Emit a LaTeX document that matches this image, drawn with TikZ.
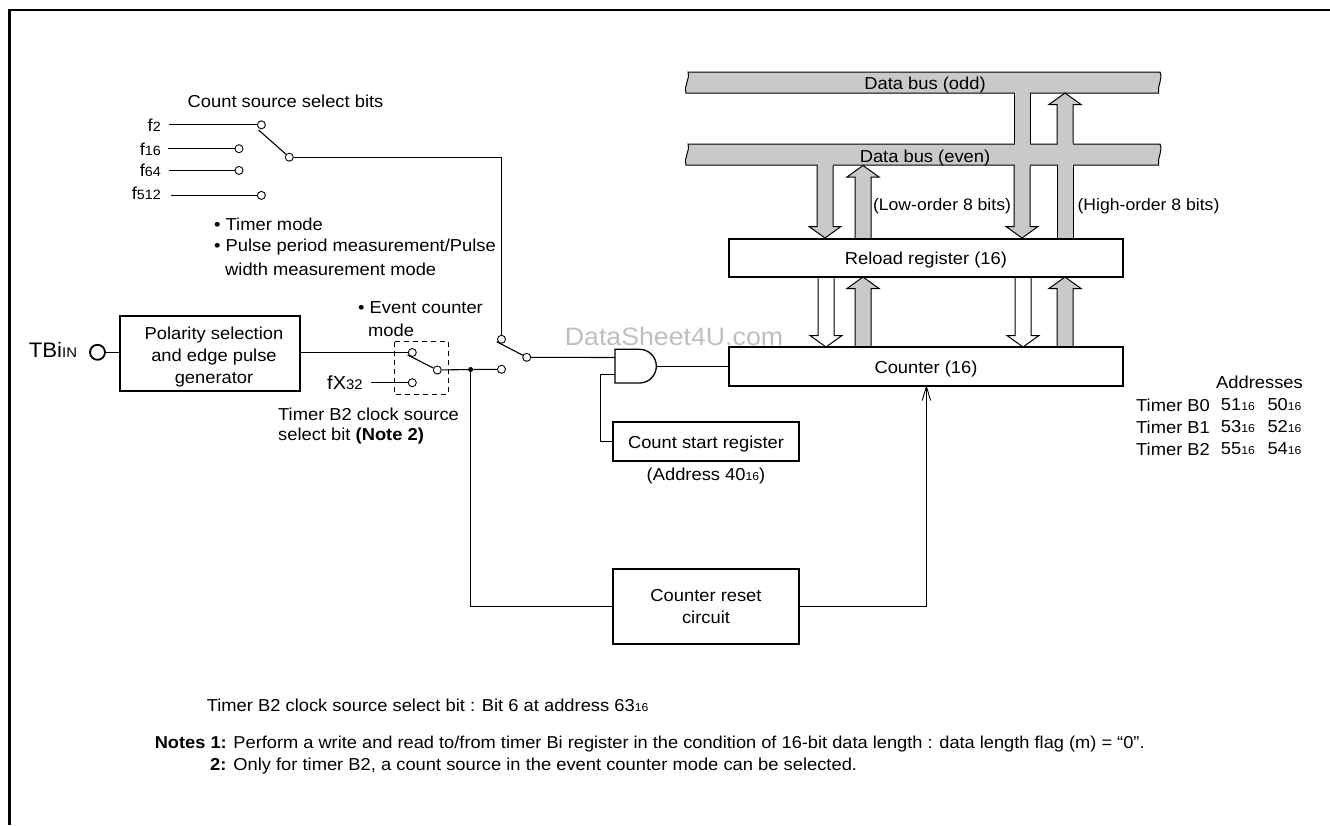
\documentclass[tikz,border=0pt]{standalone}
\usepackage{fontspec}
\setmainfont[FakeStretch=1.06]{Liberation Sans}
\usetikzlibrary{calc,arrows.meta}
\definecolor{busgray}{gray}{0.79}
\newcommand{\sbs}[1]{{\fontsize{11.5}{12}\selectfont #1}}
\newcommand{\fsub}[1]{{\fontsize{13.5}{14}\selectfont #1}}
\tikzset{x=1pt,y=-1pt,
  txt/.style={font=\fontsize{17.3}{22.3}\selectfont,inner sep=0pt,align=left},
  ctxt/.style={font=\fontsize{17.3}{22}\selectfont,inner sep=0pt,align=center},
  boxn/.style={draw,line width=2pt,fill=white,inner sep=0pt,align=center,font=\fontsize{17.3}{22}\selectfont},
  oneline/.style={text height=13pt,text depth=0pt},
  term/.style={circle,draw,fill=white,line width=0.9pt,minimum size=8pt,inner sep=0pt},
  wire/.style={line width=1.1pt},
  dot/.style={circle,fill=black,minimum size=5pt,inner sep=0pt},
  busline/.style={line width=1pt},
}
% block arrow: x, tail y, tip y, fill
\newcommand{\blockarrow}[4]{%
  \pgfmathsetmacro{\dirn}{(#3>#2)?1:-1}
  \filldraw[busline,fill=#4] (#1-8,#2) -- (#1-8,#3-\dirn*11.5) -- (#1-16,#3-\dirn*11.5) -- (#1,#3) -- (#1+16,#3-\dirn*11.5) -- (#1+8,#3-\dirn*11.5) -- (#1+8,#2);
}
% plain shaft
\newcommand{\shaft}[3]{%
  \fill[busgray] (#1-8,#2) rectangle (#1+8,#3);
  \draw[busline] (#1-8,#2) -- (#1-8,#3) (#1+8,#2) -- (#1+8,#3);
}
% opens a bus edge where a shaft crosses it
\newcommand{\busgap}[2]{\fill[busgray] (#1-7.5,#2-1) rectangle (#1+7.5,#2+1);}
% bus outline
\newcommand{\busbar}[1]{%
  \filldraw[busline,fill=busgray] (688,#1) .. controls (690,#1+8) and (684,#1+12) .. (686,#1+21) -- (1158.5,#1+21) .. controls (1157,#1+14) and (1163,#1+8) .. (1160,#1) -- cycle;
}
\begin{document}
\begin{tikzpicture}
\useasboundingbox (0,0) rectangle (1330,825);
% frame
\coordinate (fa) at (9.5,825);
\coordinate (fb) at (9.5,10);
\coordinate (fc) at (1330,10);
\draw[line width=2.6pt] (fa) -- (fb) -- (fc);
% buses
\busbar{72}
\busbar{144}
\shaft{1022}{93}{144}
\blockarrow{1065}{144}{93}{busgray}
\blockarrow{1022}{165}{238}{busgray}
\shaft{1065}{165}{238}
\blockarrow{825}{165}{238}{busgray}
\blockarrow{863}{238}{165.5}{busgray}
\busgap{1022}{93}
\busgap{1022}{144}
\busgap{1022}{165}
\busgap{1065}{144}
\busgap{1065}{165}
\busgap{825}{165}
\node[ctxt] (busodd) at (925,85.5) {Data bus (odd)};
\node[ctxt] (buseven) at (925,158.5) {Data bus (even)};
% arrows between registers
\blockarrow{826}{277}{347}{white}
\blockarrow{863}{347}{277}{busgray}
\blockarrow{1023}{277}{347}{white}
\blockarrow{1065}{347}{277}{busgray}
% boxes
\node[boxn,oneline,minimum width=394pt,minimum height=38.5pt] (reload) at (926,257.8) {Reload register (16)};
\node[boxn,oneline,minimum width=394pt,minimum height=38.5pt] (counter) at (926,366.5) {Counter (16)};
\node[boxn,minimum width=180pt,minimum height=75pt] (polar) at (210.4,353.2) {};
\node[ctxt] (polartext) at (214,357) {Polarity selection\\and edge pulse\\generator};
\node[boxn,oneline,minimum width=186pt,minimum height=39pt] (start) at (706,441.7) {Count start register};
\node[boxn,minimum width=186pt,minimum height=75pt] (reset) at (706,606.4) {Counter reset\\circuit};
\node[ctxt,font=\fontsize{16.6}{22}\selectfont] (lowlab) at (942,206) {(Low-order 8 bits)};
\node[ctxt,font=\fontsize{16.6}{22}\selectfont] (highlab) at (1148.5,206) {(High-order 8 bits)};
% labels left
\node[txt,anchor=west] (cssb) at (187.5,101.5) {Count source select bits};
\node[txt,anchor=east] (f2) at (161,125) {f\fsub{2}};
\node[txt,anchor=east] (f16) at (161,149) {f\fsub{16}};
\node[txt,anchor=east] (f64) at (161,170.5) {f\fsub{64}};
\node[txt,anchor=east] (f512) at (161,193.7) {f\fsub{512}};
% terminals
\node[term] (t2) at (261.4,124.8) {};
\node[term] (t16) at (239,148.7) {};
\node[term] (t64) at (239,170.4) {};
\node[term] (t512) at (261.4,195.4) {};
\node[term] (tout) at (289.3,157.2) {};
\coordinate (l2) at (168.6,124.8);
\coordinate (l16) at (168,148.7);
\coordinate (l64) at (168.6,170.4);
\coordinate (l512) at (171.4,195.4);
\coordinate (lev1) at (258.6,130);
\draw[wire] (l2) -- (t2);
\draw[wire] (l16) -- (t16);
\draw[wire] (l64) -- (t64);
\draw[wire] (l512) -- (t512);
\draw[wire] (lev1) -- (tout);
\node[term] (sa) at (501.5,339.3) {};
\node[term] (sb) at (501.5,369.3) {};
\node[term] (so) at (526.7,357.3) {};
\coordinate (lev2) at (496.7,341.7);
\draw[wire] (tout) -| (sa);
\draw[wire] (lev2) -- (so);
% text
\node[txt,anchor=west] (modes1) at (214,224) {• Timer mode};
\node[txt,anchor=west] (modes2) at (214,246.7) {• Pulse period measurement/Pulse};
\node[txt,anchor=west] (modes3) at (225,269) {width measurement mode};
\node[txt,anchor=west] (event1) at (358,307.5) {• Event counter};
\node[txt,anchor=west] (event2) at (368,330) {mode};
\node[txt,anchor=west] (b2src1) at (278,414) {Timer B2 clock source};
\node[txt,anchor=west] (b2src2) at (278,436) {select bit \textbf{(Note 2)}};
\node[txt,anchor=west] (tbiin) at (28.6,350) {{\fontsize{21}{22}\selectfont TBi}{\fontsize{14}{15}\selectfont IN}};
\node[circle,draw,fill=white,line width=1.8pt,minimum size=15pt,inner sep=0pt] (pin) at (97.5,352.3) {};
\draw[wire] (pin) -- (polar.west |- pin);
% dashed box
\coordinate (dl) at (394.3,341.7);
\coordinate (dr) at (448.3,394);
\draw[line width=0.8pt,dash pattern=on 5pt off 4pt] (dl) rectangle (dr);
\node[term] (ea) at (412.3,352.5) {};
\node[term] (eb) at (412.3,382.7) {};
\node[term] (eo) at (437.3,370) {};
\coordinate (lev3) at (407.7,355);
\draw[wire] (polar.east |- ea) -- (ea);
\draw[wire] (lev3) -- (eo);
\node[txt,anchor=west] (fx) at (327,383) {{\fontsize{19}{22}\selectfont fX}{\fontsize{14}{15}\selectfont 32}};
\coordinate (fxl) at (371,382.7);
\draw[wire] (fxl) -- (eb);
\node[dot] (jn) at (470.6,369.5) {};
\draw[wire] (eo) -- (jn) -- (sb);
% AND gate
\coordinate (gin1) at (615,357.5);
\coordinate (gin2) at (615,374.5);
\coordinate (gout) at (656.5,366.4);
\coordinate (gbend) at (600.7,374.5);
\filldraw[line width=1.3pt,fill=white] (615,349.3) -- (639.5,349.3) arc[start angle=-90,end angle=90,radius=16.85] -- (615,383) -- cycle;
\draw[wire] (so) -- (gin1);
\draw[wire] (gout) -- (counter.west |- gout);
\draw[wire] (gin2) -- (gbend) |- (start.west);
\node[ctxt] (addr) at (706,476) {(Address 40\sbs{16})};
% reset paths
\coordinate (ctip) at (926.4,386.5);
\draw[wire] (jn) |- (reset.west);
\draw[wire] (reset.east) -| (ctip);
\draw[line width=0.9pt] (922.2,400.5) -- (ctip) -- (930.6,400.5);
% addresses
\node[txt,anchor=east] (addrt) at (1303,382.7) {Addresses};
\node[txt,anchor=west] (b0) at (1136,405) {Timer B0};
\node[txt,anchor=west] (b1) at (1136,427) {Timer B1};
\node[txt,anchor=west] (b2) at (1136,449) {Timer B2};
\node[txt,anchor=west] (a51) at (1220.7,405) {51\sbs{16}};
\node[txt,anchor=west] (a53) at (1220.7,427) {53\sbs{16}};
\node[txt,anchor=west] (a55) at (1220.7,449) {55\sbs{16}};
\node[txt,anchor=west] (a50) at (1267.3,405) {50\sbs{16}};
\node[txt,anchor=west] (a52) at (1267.3,427) {52\sbs{16}};
\node[txt,anchor=west] (a54) at (1267.3,449) {54\sbs{16}};
% notes
\node[txt,anchor=west] (bitn) at (206.6,705) {Timer B2 clock source select bit : Bit 6 at address 63\sbs{16}};
\node[txt,anchor=west,font=\fontsize{17.2}{22}\selectfont] (n1) at (154.6,744) {\textbf{Notes 1:} Perform a write and read to/from timer Bi register in the condition of 16-bit data length : data length flag (m) = “0”.};
\node[txt,anchor=west] (n2) at (210,766) {\textbf{2:} Only for timer B2, a count source in the event counter mode can be selected.};
\node[font=\fontsize{25.2}{27}\selectfont,text=black!25,inner sep=0pt] (wm) at (674,336) {DataSheet4U.com};
\end{tikzpicture}
\end{document}
